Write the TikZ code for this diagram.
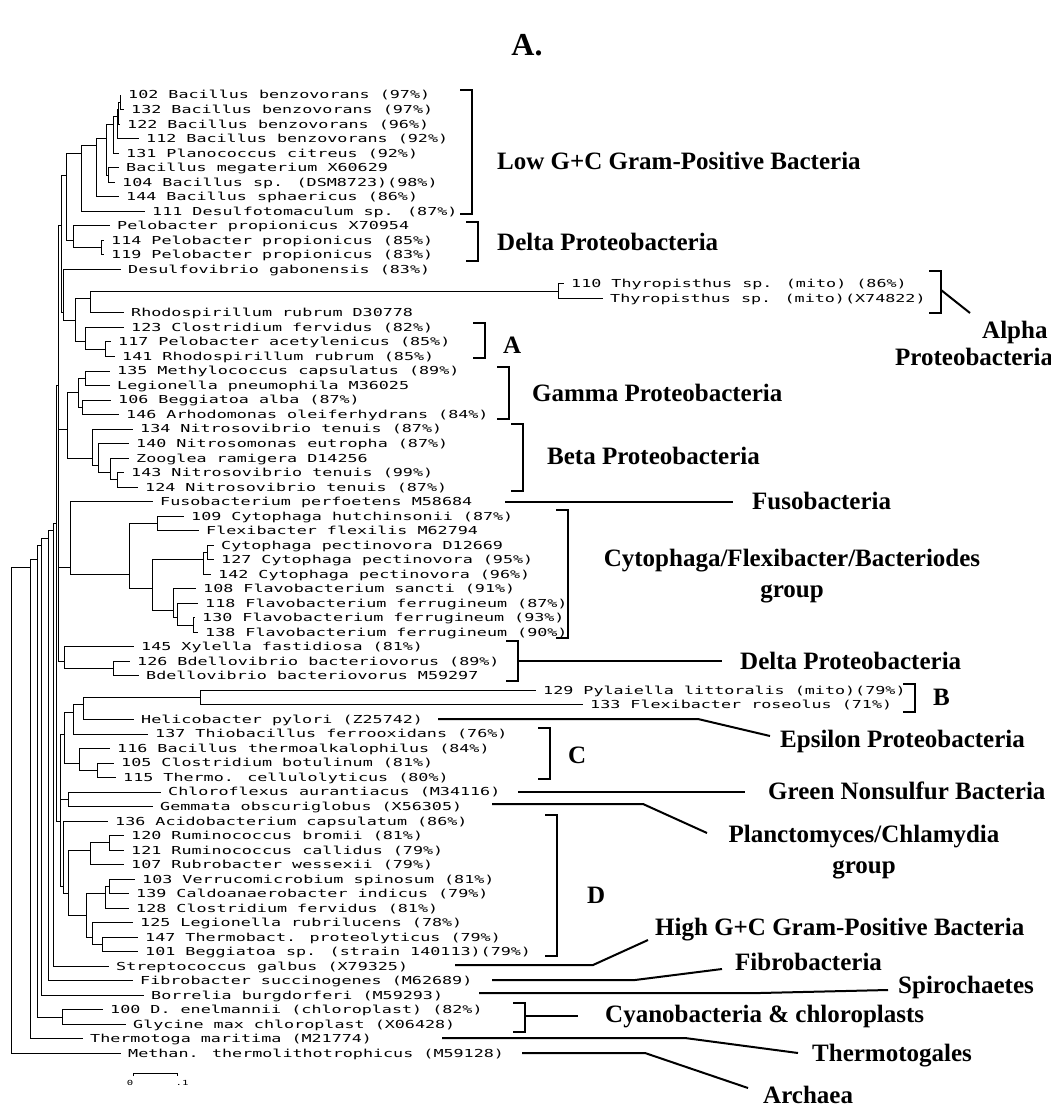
\documentclass[tikz,border=0pt]{standalone}
\usepackage{fontspec}
\setmainfont{Liberation Serif}
\newfontfamily\leaffont[FakeStretch=1.52]{DejaVu Sans Mono}
\tikzset{
  br/.style={line width=0.7pt},
  leaf/.style={anchor=west, inner xsep=7pt, inner ysep=0pt, text height=8pt, text depth=0pt, font=\fontsize{11}{12}\leaffont},
  grp/.style={anchor=west, inner sep=0pt, font=\fontsize{25}{29}\selectfont\bfseries},
  grpc/.style={inner sep=0pt, align=center, font=\fontsize{25}{31}\selectfont\bfseries},
  brk/.style={line width=2.4pt},
  lnk/.style={line width=2pt}
}
\begin{document}
\begin{tikzpicture}[x=1pt,y=-1pt]
\useasboundingbox (0,0) rectangle (1051,1110);
\begin{scope}[y=-14.52pt,yshift=-80.48pt]
\node[leaf] (lf01) at (121,1) {102 Bacillus benzovorans (97\%)};
\node[leaf] (lf02) at (124,2) {132 Bacillus benzovorans (97\%)};
\node[leaf] (lf03) at (120,3) {122 Bacillus benzovorans (96\%)};
\node[leaf] (lf04) at (139,4) {112 Bacillus benzovorans (92\%)};
\node[leaf] (lf05) at (119,5) {131 Planococcus citreus (92\%)};
\node[leaf] (lf06) at (119,6) {Bacillus megaterium X60629};
\node[leaf] (lf07) at (115,7) {104 Bacillus sp. (DSM8723)(98\%)};
\node[leaf] (lf08) at (119,8) {144 Bacillus sphaericus (86\%)};
\node[leaf] (lf09) at (145,9) {111 Desulfotomaculum sp. (87\%)};
\node[leaf] (lf10) at (110,10) {Pelobacter propionicus X70954};
\node[leaf] (lf11) at (104,11) {114 Pelobacter propionicus (85\%)};
\node[leaf] (lf12) at (104,12) {119 Pelobacter propionicus (83\%)};
\node[leaf] (lf13) at (121,13) {Desulfovibrio gabonensis (83\%)};
\node[leaf] (lf14) at (564,14) {110 Thyropisthus sp. (mito) (86\%)};
\node[leaf] (lf15) at (603,15) {Thyropisthus sp. (mito)(X74822)};
\node[leaf] (lf16) at (124,16) {Rhodospirillum rubrum D30778};
\node[leaf] (lf17) at (124,17) {123 Clostridium fervidus (82\%)};
\node[leaf] (lf18) at (111,18) {117 Pelobacter acetylenicus (85\%)};
\node[leaf] (lf19) at (115,19) {141 Rhodospirillum rubrum (85\%)};
\node[leaf] (lf20) at (110,20) {135 Methylococcus capsulatus (89\%)};
\node[leaf] (lf21) at (110,21) {Legionella pneumophila M36025};
\node[leaf] (lf22) at (111,22) {106 Beggiatoa alba (87\%)};
\node[leaf] (lf23) at (119,23) {146 Arhodomonas oleiferhydrans (84\%)};
\node[leaf] (lf24) at (133,24) {134 Nitrosovibrio tenuis (87\%)};
\node[leaf] (lf25) at (129,25) {140 Nitrosomonas eutropha (87\%)};
\node[leaf] (lf26) at (129,26) {Zooglea ramigera D14256};
\node[leaf] (lf27) at (124,27) {143 Nitrosovibrio tenuis (99\%)};
\node[leaf] (lf28) at (138,28) {124 Nitrosovibrio tenuis (87\%)};
\node[leaf] (lf29) at (153,29) {Fusobacterium perfoetens M58684};
\node[leaf] (lf30) at (184,30) {109 Cytophaga hutchinsonii (87\%)};
\node[leaf] (lf31) at (199,31) {Flexibacter flexilis M62794};
\node[leaf] (lf32) at (214,32) {Cytophaga pectinovora D12669};
\node[leaf] (lf33) at (214,33) {127 Cytophaga pectinovora (95\%)};
\node[leaf] (lf34) at (211,34) {142 Cytophaga pectinovora (96\%)};
\node[leaf] (lf35) at (196,35) {108 Flavobacterium sancti (91\%)};
\node[leaf] (lf36) at (198,36) {118 Flavobacterium ferrugineum (87\%)};
\node[leaf] (lf37) at (195,37) {130 Flavobacterium ferrugineum (93\%)};
\node[leaf] (lf38) at (198,38) {138 Flavobacterium ferrugineum (90\%)};
\node[leaf] (lf39) at (134,39) {145 Xylella fastidiosa (81\%)};
\node[leaf] (lf40) at (130,40) {126 Bdellovibrio bacteriovorus (89\%)};
\node[leaf] (lf41) at (139,41) {Bdellovibrio bacteriovorus M59297};
\node[leaf] (lf42) at (536,42) {129 Pylaiella littoralis (mito)(79\%)};
\node[leaf] (lf43) at (583,43) {133 Flexibacter roseolus (71\%)};
\node[leaf] (lf44) at (134,44) {Helicobacter pylori (Z25742)};
\node[leaf] (lf45) at (148,45) {137 Thiobacillus ferrooxidans (76\%)};
\node[leaf] (lf46) at (110,46) {116 Bacillus thermoalkalophilus (84\%)};
\node[leaf] (lf47) at (114,47) {105 Clostridium botulinum (81\%)};
\node[leaf] (lf48) at (116,48) {115 Thermo. cellulolyticus (80\%)};
\node[leaf] (lf49) at (161,49) {Chloroflexus aurantiacus (M34116)};
\node[leaf] (lf50) at (153,50) {Gemmata obscuriglobus (X56305)};
\node[leaf] (lf51) at (108,51) {136 Acidobacterium capsulatum (86\%)};
\node[leaf] (lf52) at (124,52) {120 Ruminococcus bromii (81\%)};
\node[leaf] (lf53) at (124,53) {121 Ruminococcus callidus (79\%)};
\node[leaf] (lf54) at (124,54) {107 Rubrobacter wessexii (79\%)};
\node[leaf] (lf55) at (135,55) {103 Verrucomicrobium spinosum (81\%)};
\node[leaf] (lf56) at (129,56) {139 Caldoanaerobacter indicus (79\%)};
\node[leaf] (lf57) at (129,57) {128 Clostridium fervidus (81\%)};
\node[leaf] (lf58) at (133,58) {125 Legionella rubrilucens (78\%)};
\node[leaf] (lf59) at (138,59) {147 Thermobact. proteolyticus (79\%)};
\node[leaf] (lf60) at (138,60) {101 Beggiatoa sp. (strain 140113)(79\%)};
\node[leaf] (lf61) at (109,61) {Streptococcus galbus (X79325)};
\node[leaf] (lf62) at (133,62) {Fibrobacter succinogenes (M62689)};
\node[leaf] (lf63) at (144,63) {Borrelia burgdorferi (M59293)};
\node[leaf] (lf64) at (103,64) {100 D. enelmannii (chloroplast) (82\%)};
\node[leaf] (lf65) at (126,65) {Glycine max chloroplast (X06428)};
\node[leaf] (lf66) at (83,66) {Thermotoga maritima (M21774)};
\node[leaf] (lf67) at (121,67) {Methan. thermolithotrophicus (M59128)};
\coordinate (n0102) at (120,1.5);
\coordinate (n0103) at (118,2);
\coordinate (n0104) at (117,2.5);
\coordinate (n0105) at (113,3);
\coordinate (n0607) at (108,6.5);
\coordinate (n0107) at (106,4);
\coordinate (n0108) at (96,4.5);
\coordinate (n0109) at (81,5);
\coordinate (n1112) at (101,11.5);
\coordinate (n1012) at (73,11);
\coordinate (n0112) at (66,6.5);
\coordinate (n1415) at (558,14.5);
\coordinate (n1416) at (90,15);
\coordinate (n1819) at (105,18.5);
\coordinate (n1719) at (85,18);
\coordinate (n1419) at (75,16.5);
\coordinate (n1319) at (63,16);
\coordinate (n0119) at (61,10);
\coordinate (n2021) at (85,20.5);
\coordinate (n2223) at (82,22.5);
\coordinate (n2023) at (78,21.5);
\coordinate (n2728) at (117,27.5);
\coordinate (n2628) at (110,27);
\coordinate (n2528) at (98,26.5);
\coordinate (n2428) at (92,26);
\coordinate (n2028) at (67,24);
\coordinate (n3031) at (157,30.5);
\coordinate (n3233) at (207,32.5);
\coordinate (n3234) at (203,33);
\coordinate (n3738) at (193,37.5);
\coordinate (n3638) at (177,37);
\coordinate (n3538) at (173,36.5);
\coordinate (n3238) at (152,35);
\coordinate (n3038) at (129,34);
\coordinate (n2938) at (70,33.5);
\coordinate (n4041) at (113,40.5);
\coordinate (n3941) at (64,40);
\coordinate (n0141) at (58,21);
\coordinate (n4243) at (200,42.5);
\coordinate (n4244) at (83,43);
\coordinate (n4245) at (73,43.5);
\coordinate (n4748) at (97,47.5);
\coordinate (n4648) at (79,47);
\coordinate (n4248) at (64,45);
\coordinate (n4950) at (68,49.5);
\coordinate (n5253) at (109,52.5);
\coordinate (n5254) at (90,53);
\coordinate (n5556) at (109,55.5);
\coordinate (n5557) at (105,56);
\coordinate (n5960) at (102,59.5);
\coordinate (n5860) at (92,59);
\coordinate (n5560) at (86,57.5);
\coordinate (n5260) at (68,56);
\coordinate (n5160) at (63,55.5);
\coordinate (n4260) at (60,51);
\coordinate (n0160) at (56,30.5);
\coordinate (n0161) at (53,31);
\coordinate (n0162) at (48,31.5);
\coordinate (n0163) at (41,32);
\coordinate (n6465) at (62,64.5);
\coordinate (n0165) at (37,33);
\coordinate (n0166) at (30,33.5);
\coordinate (n0167) at (11,34);
\end{scope}
\draw[br] (n0102) |- (lf01);
\draw[br] (n0102) |- (lf02);
\draw[br] (n0103) |- (n0102);
\draw[br] (n0103) |- (lf03);
\draw[br] (n0104) |- (n0103);
\draw[br] (n0104) |- (lf04);
\draw[br] (n0105) |- (n0104);
\draw[br] (n0105) |- (lf05);
\draw[br] (n0607) |- (lf06);
\draw[br] (n0607) |- (lf07);
\draw[br] (n0107) |- (n0105);
\draw[br] (n0107) |- (n0607);
\draw[br] (n0108) |- (n0107);
\draw[br] (n0108) |- (lf08);
\draw[br] (n0109) |- (n0108);
\draw[br] (n0109) |- (lf09);
\draw[br] (n1112) |- (lf11);
\draw[br] (n1112) |- (lf12);
\draw[br] (n1012) |- (lf10);
\draw[br] (n1012) |- (n1112);
\draw[br] (n0112) |- (n0109);
\draw[br] (n0112) |- (n1012);
\draw[br] (n1415) |- (lf14);
\draw[br] (n1415) |- (lf15);
\draw[br] (n1416) |- (n1415);
\draw[br] (n1416) |- (lf16);
\draw[br] (n1819) |- (lf18);
\draw[br] (n1819) |- (lf19);
\draw[br] (n1719) |- (lf17);
\draw[br] (n1719) |- (n1819);
\draw[br] (n1419) |- (n1416);
\draw[br] (n1419) |- (n1719);
\draw[br] (n1319) |- (lf13);
\draw[br] (n1319) |- (n1419);
\draw[br] (n0119) |- (n0112);
\draw[br] (n0119) |- (n1319);
\draw[br] (n2021) |- (lf20);
\draw[br] (n2021) |- (lf21);
\draw[br] (n2223) |- (lf22);
\draw[br] (n2223) |- (lf23);
\draw[br] (n2023) |- (n2021);
\draw[br] (n2023) |- (n2223);
\draw[br] (n2728) |- (lf27);
\draw[br] (n2728) |- (lf28);
\draw[br] (n2628) |- (lf26);
\draw[br] (n2628) |- (n2728);
\draw[br] (n2528) |- (lf25);
\draw[br] (n2528) |- (n2628);
\draw[br] (n2428) |- (lf24);
\draw[br] (n2428) |- (n2528);
\draw[br] (n2028) |- (n2023);
\draw[br] (n2028) |- (n2428);
\draw[br] (n3031) |- (lf30);
\draw[br] (n3031) |- (lf31);
\draw[br] (n3233) |- (lf32);
\draw[br] (n3233) |- (lf33);
\draw[br] (n3234) |- (n3233);
\draw[br] (n3234) |- (lf34);
\draw[br] (n3738) |- (lf37);
\draw[br] (n3738) |- (lf38);
\draw[br] (n3638) |- (lf36);
\draw[br] (n3638) |- (n3738);
\draw[br] (n3538) |- (lf35);
\draw[br] (n3538) |- (n3638);
\draw[br] (n3238) |- (n3234);
\draw[br] (n3238) |- (n3538);
\draw[br] (n3038) |- (n3031);
\draw[br] (n3038) |- (n3238);
\draw[br] (n2938) |- (lf29);
\draw[br] (n2938) |- (n3038);
\draw[br] (n4041) |- (lf40);
\draw[br] (n4041) |- (lf41);
\draw[br] (n3941) |- (lf39);
\draw[br] (n3941) |- (n4041);
\draw[br] (n0141) |- (n0119);
\draw[br] (n0141) |- (n2028);
\draw[br] (n0141) |- (n2938);
\draw[br] (n0141) |- (n3941);
\draw[br] (n4243) |- (lf42);
\draw[br] (n4243) |- (lf43);
\draw[br] (n4244) |- (n4243);
\draw[br] (n4244) |- (lf44);
\draw[br] (n4245) |- (n4244);
\draw[br] (n4245) |- (lf45);
\draw[br] (n4748) |- (lf47);
\draw[br] (n4748) |- (lf48);
\draw[br] (n4648) |- (lf46);
\draw[br] (n4648) |- (n4748);
\draw[br] (n4248) |- (n4245);
\draw[br] (n4248) |- (n4648);
\draw[br] (n4950) |- (lf49);
\draw[br] (n4950) |- (lf50);
\draw[br] (n5253) |- (lf52);
\draw[br] (n5253) |- (lf53);
\draw[br] (n5254) |- (n5253);
\draw[br] (n5254) |- (lf54);
\draw[br] (n5556) |- (lf55);
\draw[br] (n5556) |- (lf56);
\draw[br] (n5557) |- (n5556);
\draw[br] (n5557) |- (lf57);
\draw[br] (n5960) |- (lf59);
\draw[br] (n5960) |- (lf60);
\draw[br] (n5860) |- (lf58);
\draw[br] (n5860) |- (n5960);
\draw[br] (n5560) |- (n5557);
\draw[br] (n5560) |- (n5860);
\draw[br] (n5260) |- (n5254);
\draw[br] (n5260) |- (n5560);
\draw[br] (n5160) |- (lf51);
\draw[br] (n5160) |- (n5260);
\draw[br] (n4260) |- (n4248);
\draw[br] (n4260) |- (n4950);
\draw[br] (n4260) |- (n5160);
\draw[br] (n0160) |- (n0141);
\draw[br] (n0160) |- (n4260);
\draw[br] (n0161) |- (n0160);
\draw[br] (n0161) |- (lf61);
\draw[br] (n0162) |- (n0161);
\draw[br] (n0162) |- (lf62);
\draw[br] (n0163) |- (n0162);
\draw[br] (n0163) |- (lf63);
\draw[br] (n6465) |- (lf64);
\draw[br] (n6465) |- (lf65);
\draw[br] (n0165) |- (n0163);
\draw[br] (n0165) |- (n6465);
\draw[br] (n0166) |- (n0165);
\draw[br] (n0166) |- (lf66);
\draw[br] (n0167) |- (n0166);
\draw[br] (n0167) |- (lf67);
\node[font=\fontsize{32}{34}\selectfont\bfseries] (ttl) at (527,45) {A.};
\node[grp] (gLowGC) at (497,161) {Low G+C Gram-Positive Bacteria};
\draw[brk] (460,90) -- (472,90) -- (472,214) -- (460,214);
\node[grp] (gDelta1) at (497,242) {Delta Proteobacteria};
\draw[brk] (466,222) -- (478,222) -- (478,261) -- (466,261);
\draw[brk] (929,271) -- (941,271) -- (941,313) -- (929,313);
\coordinate (cAlpha) at (941,290);
\node[grp] (gAlpha1) at (982,332) {Alpha};
\node[grp] (gAlpha2) at (895,357) {Proteobacteria};
\draw[lnk] (cAlpha) -- (970,313);
\draw[brk] (473,323) -- (485,323) -- (485,358) -- (473,358);
\node[grp] (gA) at (503,345) {A};
\draw[brk] (497,367) -- (509,367) -- (509,419) -- (497,419);
\node[grp] (gGamma) at (532,393) {Gamma Proteobacteria};
\draw[brk] (511,424) -- (523,424) -- (523,491) -- (511,491);
\node[grp] (gBeta) at (547,456) {Beta Proteobacteria};
\coordinate (cFuso) at (505,501.6);
\node[grp] (gFuso) at (752,501) {Fusobacteria};
\draw[lnk] (cFuso) -- (733,501.6);
\draw[brk] (556,510) -- (568,510) -- (568,638) -- (556,638);
\node[grpc] (gCFB) at (792,576) {Cytophaga/Flexibacter/Bacteriodes\\group};
\draw[brk] (506,641) -- (518,641) -- (518,681) -- (506,681);
\coordinate (cDelta2) at (518,661);
\node[grp] (gDelta2) at (740,661) {Delta Proteobacteria};
\draw[lnk] (cDelta2) -- (722,661);
\draw[brk] (903,684) -- (915,684) -- (915,712) -- (903,712);
\node[grp] (gB) at (933,697) {B};
\coordinate (cEps) at (438,719);
\node[grp] (gEps) at (780,741) {Epsilon Proteobacteria};
\draw[lnk] (cEps) -- (698,719) -- (770,736);
\draw[brk] (538,728) -- (550,728) -- (550,779) -- (538,779);
\node[grp] (gC) at (568,755) {C};
\coordinate (cGreen) at (518,792);
\node[grp] (gGreen) at (768,791) {Green Nonsulfur Bacteria};
\draw[lnk] (cGreen) -- (745,792);
\coordinate (cPlanc) at (492,804);
\node[grpc] (gPlanc) at (864,852) {Planctomyces/Chlamydia\\group};
\draw[lnk] (cPlanc) -- (643,804) -- (707,833);
\draw[brk] (545,815) -- (557,815) -- (557,956) -- (545,956);
\node[grp] (gD) at (587,895) {D};
\coordinate (cHighGC) at (455,965);
\node[grp] (gHighGC) at (655,930) {High G+C Gram-Positive Bacteria};
\draw[lnk] (cHighGC) -- (593,965) -- (648,940);
\coordinate (cFibro) at (492,980);
\node[grp] (gFibro) at (735,962) {Fibrobacteria};
\draw[lnk] (cFibro) -- (635,980) -- (722,969);
\coordinate (cSpiro) at (479,993);
\node[grp] (gSpiro) at (898,987) {Spirochaetes};
\draw[lnk] (cSpiro) -- (760,993) -- (888,990);
\draw[brk] (513,1003) -- (525,1003) -- (525,1032) -- (513,1032);
\coordinate (cCyano) at (525,1016);
\node[grp] (gCyano) at (605,1017) {Cyanobacteria \& chloroplasts};
\draw[lnk] (cCyano) -- (578,1016);
\coordinate (cThermo) at (442,1038);
\node[grp] (gThermo) at (812,1056) {Thermotogales};
\draw[lnk] (cThermo) -- (685,1038) -- (798,1053);
\coordinate (cArch) at (522,1053);
\node[grp] (gArch) at (763,1095) {Archaea};
\draw[lnk] (cArch) -- (645,1053) -- (748,1088);
\coordinate (sb0) at (133,1073);
\coordinate (sb1) at (177,1073);
\draw[br] ([yshift=-3pt]sb0) -- (sb0) -- (sb1) -- ([yshift=-3pt]sb1);
\node[font=\fontsize{7}{8}\leaffont] (sbl0) at (130,1083) {0};
\node[font=\fontsize{7}{8}\leaffont] (sbl1) at (182,1083) {.1};
\end{tikzpicture}
\end{document}
